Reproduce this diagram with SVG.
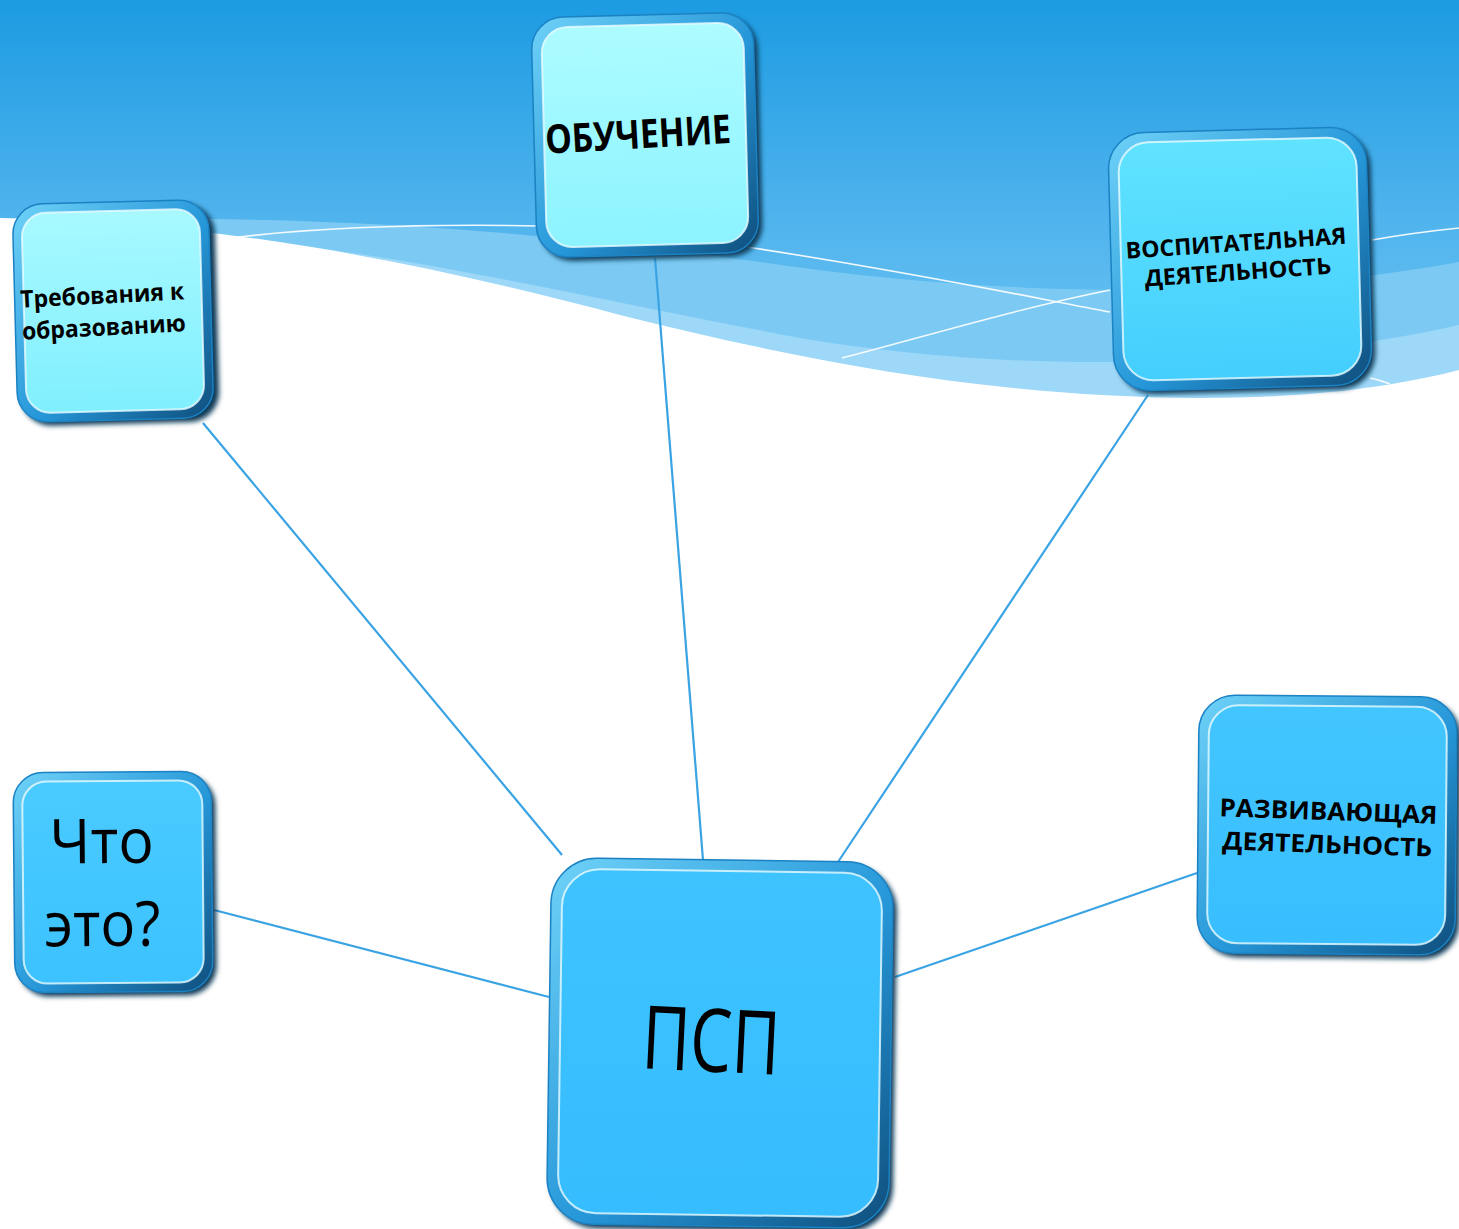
<svg xmlns="http://www.w3.org/2000/svg" width="1459" height="1229" viewBox="0 0 1459 1229">
<defs>
<linearGradient id="sky" gradientUnits="userSpaceOnUse" x1="0" y1="0" x2="0" y2="390">
<stop offset="0" stop-color="#1c9be2"/>
<stop offset="0.55" stop-color="#4fb3ed"/>
<stop offset="1" stop-color="#6fc6f3"/>
</linearGradient>
<linearGradient id="bevel" x1="0" y1="0" x2="1" y2="1">
<stop offset="0" stop-color="#6fd2f8"/>
<stop offset="0.55" stop-color="#2596d8"/>
<stop offset="1" stop-color="#0f4e7c"/>
</linearGradient>
<linearGradient id="f1" x1="0" y1="0" x2="0" y2="1"><stop offset="0" stop-color="#a8f9ff"/><stop offset="1" stop-color="#80effe"/></linearGradient>
<linearGradient id="f2" x1="0" y1="0" x2="0" y2="1"><stop offset="0" stop-color="#adfcff"/><stop offset="1" stop-color="#8cf3ff"/></linearGradient>
<linearGradient id="f3" x1="0" y1="0" x2="0" y2="1"><stop offset="0" stop-color="#60e3ff"/><stop offset="1" stop-color="#44cefd"/></linearGradient>
<linearGradient id="f4" x1="0" y1="0" x2="0" y2="1"><stop offset="0" stop-color="#4acbff"/><stop offset="1" stop-color="#3cc2ff"/></linearGradient>
<linearGradient id="f5" x1="0" y1="0" x2="0" y2="1"><stop offset="0" stop-color="#43c6ff"/><stop offset="1" stop-color="#38beff"/></linearGradient>
<linearGradient id="f6" x1="0" y1="0" x2="0" y2="1"><stop offset="0" stop-color="#3fc3ff"/><stop offset="1" stop-color="#36bdff"/></linearGradient>
<filter id="blur" x="-10%" y="-10%" width="120%" height="120%"><feGaussianBlur stdDeviation="2.5"/></filter>
<style>
.shadow{fill:#0f3a58;filter:url(#blur)}
.bevel{fill:url(#bevel);stroke:#1b82c4;stroke-width:1.5}
.face{stroke:#e8fbff;stroke-width:2;stroke-opacity:0.8}
.conn{stroke:#3aa3e3;stroke-width:2.2;fill:none}
.wl{stroke:#ffffff;stroke-width:1.6;fill:none;opacity:0.9}
.lab{font-family:"Open Sans","Noto Sans","DejaVu Sans",sans-serif;fill:#000;text-anchor:middle}
.b{font-weight:700}
</style>
</defs>

<g id="background">
<rect x="0" y="0" width="1459" height="1229" fill="url(#sky)"/>
<path d="M0,222 C250,212 500,225 760,262 C1000,298 1250,300 1459,262 L1459,1229 L0,1229 Z" fill="#7ccaf4"/>
<path d="M0,224 C300,226 520,285 800,338 C1000,372 1250,372 1459,325 L1459,1229 L0,1229 Z" fill="#9ed8f8"/>
<path d="M0,218 C220,222 420,262 620,315 C820,365 1000,397 1200,398 C1320,398 1400,385 1459,370 L1459,1229 L0,1229 Z" fill="#ffffff"/>
<path class="wl" d="M230,238 C330,226 440,224 540,226"/>
<path class="wl" d="M740,246 C900,270 1020,295 1110,312"/>
<path class="wl" d="M842,358 C930,335 1020,308 1110,290"/>
<path class="wl" d="M1372,240 C1400,235 1430,231 1459,228"/>
<path class="wl" d="M1370,378 C1380,380 1385,382 1390,384"/>
</g>

<g id="connectors">
<line class="conn" x1="203" y1="423" x2="562" y2="855"/>
<line class="conn" x1="655" y1="258" x2="703" y2="860"/>
<line class="conn" x1="1148" y1="395" x2="838" y2="862"/>
<line class="conn" x1="214" y1="910" x2="549" y2="997"/>
<line class="conn" x1="1197" y1="873" x2="895" y2="977"/>
</g>

<g id="node-trebovaniya" transform="translate(113,311) rotate(-1.5)">
<rect class="shadow" x="-94" y="-105" width="198" height="218" rx="30"/>
<rect class="bevel" x="-98" y="-109" width="196" height="218" rx="30"/>
<rect class="face" x="-89" y="-100" width="178" height="200" rx="24" fill="url(#f1)"/>
<text class="lab b" x="-10" y="-8" font-size="24" textLength="164" lengthAdjust="spacingAndGlyphs" transform="rotate(-1.5)">Требования к</text>
<text class="lab b" x="-10" y="24" font-size="24" textLength="164" lengthAdjust="spacingAndGlyphs" transform="rotate(-1.5)">образованию</text>
</g>

<g id="node-obuchenie" transform="translate(645,135) rotate(-1.5)">
<rect class="shadow" x="-107" y="-116" width="222" height="240" rx="32"/>
<rect class="bevel" x="-111" y="-120" width="222" height="240" rx="32"/>
<rect class="face" x="-101" y="-110" width="202" height="220" rx="26" fill="url(#f2)"/>
<text class="lab b" x="-7" y="13" font-size="40" textLength="186" lengthAdjust="spacingAndGlyphs" transform="rotate(-1.8)">ОБУЧЕНИЕ</text>
</g>

<g id="node-vospitatelnaya" transform="translate(1240,259) rotate(-1.5)">
<rect class="shadow" x="-125" y="-125" width="258" height="258" rx="36"/>
<rect class="bevel" x="-129" y="-129" width="258" height="258" rx="36"/>
<rect class="face" x="-119" y="-119" width="238" height="238" rx="30" fill="url(#f3)"/>
<text class="lab b" x="-3" y="-8" font-size="23" textLength="221" lengthAdjust="spacingAndGlyphs" transform="rotate(-2.4)">ВОСПИТАТЕЛЬНАЯ</text>
<text class="lab b" x="-3" y="21" font-size="23" textLength="187" lengthAdjust="spacingAndGlyphs" transform="rotate(-2.4)">ДЕЯТЕЛЬНОСТЬ</text>
</g>

<g id="node-chto-eto" transform="translate(113,882) rotate(-0.5)">
<rect class="shadow" x="-95" y="-106" width="198" height="220" rx="30"/>
<rect class="bevel" x="-99" y="-110" width="198" height="220" rx="30"/>
<rect class="face" x="-90" y="-101" width="180" height="202" rx="24" fill="url(#f4)"/>
<text class="lab" x="-11" y="-19" font-size="62" textLength="104" lengthAdjust="spacingAndGlyphs">Что</text>
<text class="lab" x="-11" y="64" font-size="62" textLength="116" lengthAdjust="spacingAndGlyphs">это?</text>
</g>

<g id="node-razvivayushchaya" transform="translate(1327,825) rotate(0.5)">
<rect class="shadow" x="-125" y="-125" width="258" height="258" rx="36"/>
<rect class="bevel" x="-129" y="-129" width="258" height="258" rx="36"/>
<rect class="face" x="-119" y="-119" width="238" height="238" rx="30" fill="url(#f5)"/>
<text class="lab b" x="1" y="-5" font-size="25" textLength="218" lengthAdjust="spacingAndGlyphs" transform="rotate(1.5)">РАЗВИВАЮЩАЯ</text>
<text class="lab b" x="1" y="28" font-size="25" textLength="210" lengthAdjust="spacingAndGlyphs" transform="rotate(1.5)">ДЕЯТЕЛЬНОСТЬ</text>
</g>

<g id="node-psp" transform="translate(720,1043) rotate(0.8)">
<rect class="shadow" x="-167" y="-179" width="342" height="366" rx="46"/>
<rect class="bevel" x="-171" y="-183" width="342" height="366" rx="46"/>
<rect class="face" x="-160" y="-172" width="320" height="344" rx="38" fill="url(#f6)"/>
<text class="lab" x="-9" y="29" font-size="88" textLength="138" lengthAdjust="spacingAndGlyphs" transform="rotate(2)">ПСП</text>
</g>
</svg>
